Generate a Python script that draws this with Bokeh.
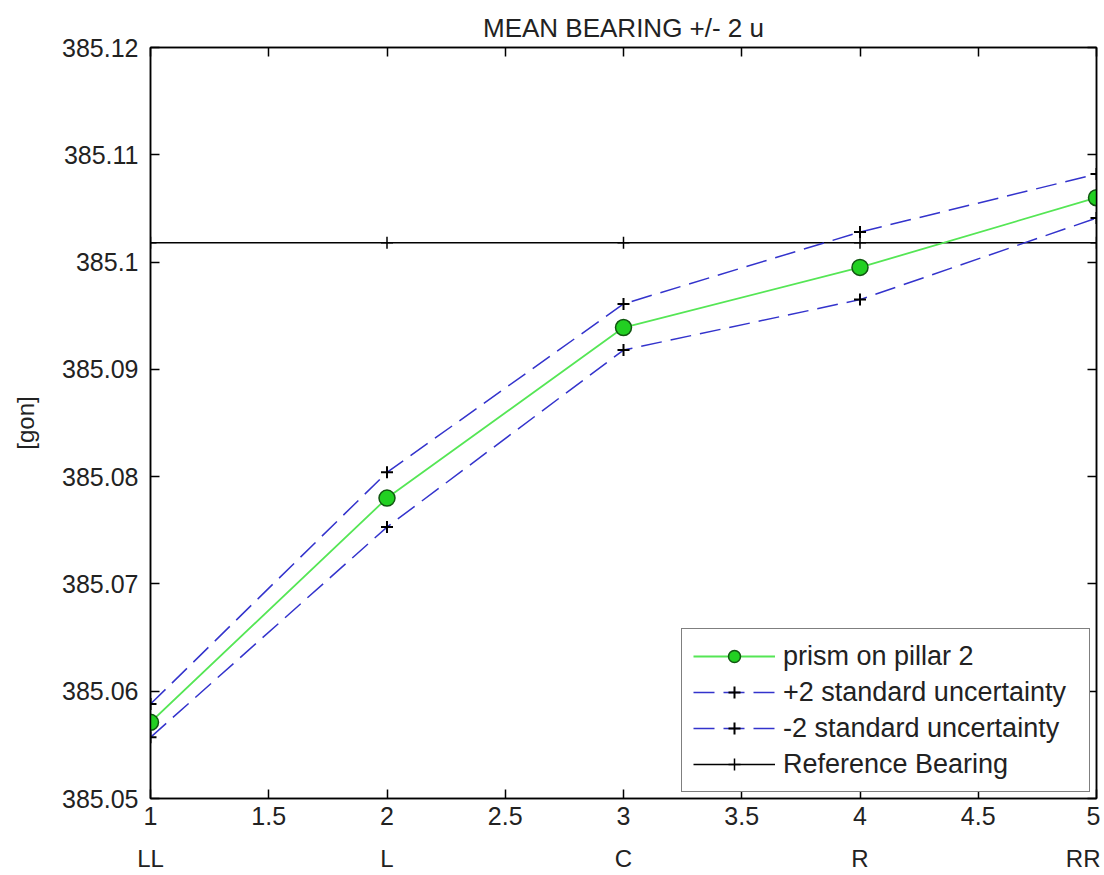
from bokeh.plotting import figure
from bokeh.models import (Range1d, LinearAxis, FixedTicker, CustomJSTickFormatter,
                          Legend, LegendItem)
from bokeh.embed import file_html
from bokeh.resources import INLINE

# ---- data ----
positions = [1, 2, 3, 4, 5]
categories = ["LL", "L", "C", "R", "RR"]
mean_bearing = [385.0571, 385.0780, 385.0939, 385.0995, 385.1060]
upper_2u = [385.0588, 385.0804, 385.0961, 385.1028, 385.1082]
lower_2u = [385.0557, 385.0753, 385.0918, 385.0965, 385.1041]
reference_bearing = [385.1018] * 5
x_ticks = [1, 1.5, 2, 2.5, 3, 3.5, 4, 4.5, 5]
y_ticks = [385.05, 385.06, 385.07, 385.08, 385.09, 385.10, 385.11, 385.12]

FONT = "Liberation Sans"
TXT = "#222222"

p = figure(width=1100, height=874,
           x_range=Range1d(1, 5), y_range=Range1d(385.05, 385.12),
           output_backend="svg", toolbar_location=None,
           min_border_left=150, min_border_right=4,
           min_border_top=47, min_border_bottom=76,
           title="MEAN BEARING +/- 2 u")

p.title.align = "center"
p.title.text_font = FONT
p.title.text_font_size = "26px"
p.title.text_font_style = "normal"
p.title.text_color = TXT
p.title.standoff = 10

p.xgrid.visible = False
p.ygrid.visible = False
p.outline_line_color = "black"
p.outline_line_width = 1.5
p.background_fill_color = "white"
p.border_fill_color = "white"

xfmt = CustomJSTickFormatter(code="return String(Math.round(tick*10)/10)")
yfmt = CustomJSTickFormatter(code="return tick.toFixed(2).replace(/0$/, '')")
blank = CustomJSTickFormatter(code="return ''")

def style_axis(ax):
    ax.axis_line_color = "black"
    ax.axis_line_width = 1.5
    ax.major_tick_line_color = "black"
    ax.major_tick_line_width = 1.5
    ax.major_tick_in = 9
    ax.major_tick_out = 0
    ax.minor_tick_line_color = None
    ax.major_label_text_font = FONT
    ax.major_label_text_color = TXT
    ax.major_label_text_font_size = "25px"

# bottom
xa = p.xaxis[0]
xa.ticker = FixedTicker(ticks=x_ticks)
xa.formatter = xfmt
style_axis(xa)
xa.major_label_standoff = 8

# left
ya = p.yaxis[0]
ya.ticker = FixedTicker(ticks=y_ticks)
ya.formatter = yfmt
style_axis(ya)
ya.major_label_standoff = 12
ya.axis_label = "[gon]"
ya.axis_label_text_font = FONT
ya.axis_label_text_font_size = "24px"
ya.axis_label_text_font_style = "normal"
ya.axis_label_text_color = TXT
ya.axis_label_standoff = 20

# top & right (box ticks, no labels)
top = LinearAxis(ticker=FixedTicker(ticks=x_ticks), formatter=blank)
style_axis(top)
top.major_label_standoff = 0
top.major_label_text_font_size = "1px"
p.add_layout(top, "above")
right = LinearAxis(ticker=FixedTicker(ticks=y_ticks), formatter=blank)
style_axis(right)
right.major_label_standoff = 0
right.major_label_text_font_size = "1px"
p.add_layout(right, "right")

# category row below
cat_axis = LinearAxis(ticker=FixedTicker(ticks=positions),
                      formatter=CustomJSTickFormatter(args=dict(labels=categories),
                                                      code="return labels[Math.round(tick) - 1]"))
cat_axis.axis_line_color = None
cat_axis.major_tick_line_color = None
cat_axis.minor_tick_line_color = None
cat_axis.major_label_text_font = FONT
cat_axis.major_label_text_font_size = "24px"
cat_axis.major_label_text_color = TXT
cat_axis.major_label_standoff = 11
p.add_layout(cat_axis, "below")

# ---- glyphs ----
GREEN = "#55e655"
BLUE = "#3333cc"
DASH = "21 9"

ref_line = p.line(positions, reference_bearing, line_color="black", line_width=1.5)
ref_pts = p.scatter(positions, reference_bearing, marker="cross", size=12,
                    line_color="black", line_width=1.5)

up_line = p.line(positions, upper_2u, line_color=BLUE, line_width=1.5, line_dash=DASH)
up_pts = p.scatter(positions, upper_2u, marker="cross", size=12,
                   line_color="black", line_width=2)
lo_line = p.line(positions, lower_2u, line_color=BLUE, line_width=1.5, line_dash=DASH)
lo_pts = p.scatter(positions, lower_2u, marker="cross", size=12,
                   line_color="black", line_width=2)

mean_line = p.line(positions, mean_bearing, line_color=GREEN, line_width=1.8)
mean_pts = p.scatter(positions, mean_bearing, marker="circle", size=16,
                     fill_color="#22d022", line_color="#115511", line_width=1.5)

legend = Legend(items=[
    LegendItem(label="prism on pillar 2", renderers=[mean_line, mean_pts]),
    LegendItem(label="+2 standard uncertainty", renderers=[up_line, up_pts]),
    LegendItem(label="-2 standard uncertainty", renderers=[lo_line, lo_pts]),
    LegendItem(label="Reference Bearing", renderers=[ref_line, ref_pts]),
], location="bottom_right")
legend.margin = 6
legend.border_line_color = "black"
legend.border_line_width = 1.5
legend.background_fill_color = "white"
legend.background_fill_alpha = 1.0
legend.label_text_font = FONT
legend.label_text_font_size = "27px"
legend.label_text_color = TXT
legend.glyph_width = 82
legend.glyph_height = 30
legend.label_height = 32
legend.label_width = 295
legend.label_standoff = 8
legend.spacing = 4
legend.padding = 11
p.add_layout(legend)

open("out.html", "w").write(file_html(p, INLINE))
